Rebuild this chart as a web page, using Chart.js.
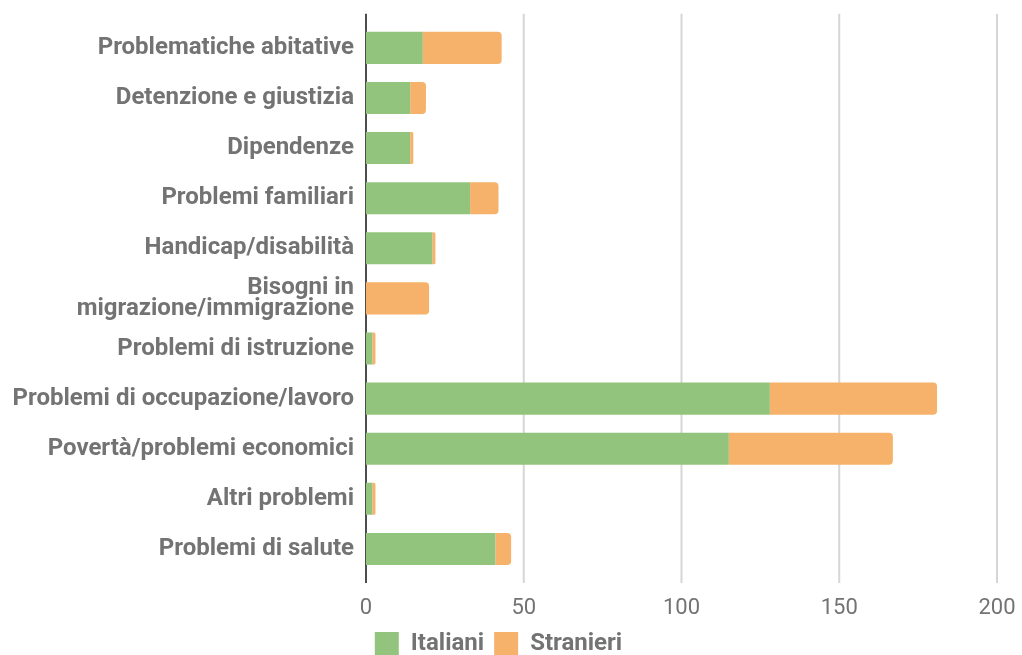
<!DOCTYPE html>
<html>
<head>
<meta charset="utf-8">
<script src="https://cdn.jsdelivr.net/npm/chart.js@4.4.1/dist/chart.umd.min.js"></script>
<style>
  html, body { margin: 0; padding: 0; background: #fff; overflow: hidden; }
  #wrap { width: 1022px; height: 666px; position: relative; }
</style>
</head>
<body>
<div id="wrap"><canvas id="myChart"></canvas></div>
<script>
const categories = [
  'Problematiche abitative',
  'Detenzione e giustizia',
  'Dipendenze',
  'Problemi familiari',
  'Handicap/disabilità',
  ['Bisogni in', 'migrazione/immigrazione'],
  'Problemi di istruzione',
  'Problemi di occupazione/lavoro',
  'Povertà/problemi economici',
  'Altri problemi',
  'Problemi di salute'
];
const italiani = [18, 14, 14, 33, 21, 0, 2, 128, 115, 2, 41];
const stranieri = [25, 5, 1, 9, 1, 20, 1, 53, 52, 1, 5];
const xMax = 200;
const xStep = 50;

const textGrey = '#737373';
const gridGrey = '#d6d6d6';
const axisGrey = '#4d4d4d';

// grid lines stick out a little above and below the plot, like the original
const gridLines = {
  id: 'gridLines',
  beforeDatasetsDraw(chart) {
    const {ctx, chartArea, scales: {x}} = chart;
    ctx.save();
    ctx.lineWidth = 2;
    x.ticks.forEach(t => {
      const px = x.getPixelForValue(t.value);
      ctx.strokeStyle = t.value === 0 ? axisGrey : gridGrey;
      ctx.beginPath();
      ctx.moveTo(px, chartArea.top - 9);
      ctx.lineTo(px, chartArea.bottom + 9);
      ctx.stroke();
    });
    ctx.restore();
  }
};

const ctx = document.getElementById('myChart');

new Chart(ctx, {
  type: 'bar',
  data: {
    labels: categories,
    datasets: [{
      label: 'Italiani',
      data: italiani,
      backgroundColor: '#93c47d',
      borderRadius: 0,
      categoryPercentage: 0.8,
      barPercentage: 0.8
    }, {
      label: 'Stranieri',
      data: stranieri,
      backgroundColor: '#f6b26b',
      borderRadius: 4,
      categoryPercentage: 0.8,
      barPercentage: 0.8
    }]
  },
  options: {
    indexAxis: 'y',
    responsive: true,
    maintainAspectRatio: false,
    animation: false,
    layout: { padding: { top: 22, left: 0, right: 25, bottom: 0 } },
    scales: {
      x: {
        stacked: true,
        min: 0,
        max: xMax,
        afterFit: (scale) => {
          scale.height = 48;
          scale.paddingLeft = 0;
          scale.paddingRight = 0;
        },
        grid: { display: false, drawTicks: false },
        border: { display: false },
        ticks: {
          stepSize: xStep,
          color: textGrey,
          padding: 21,
          font: { family: 'Roboto', size: 22 }
        }
      },
      y: {
        stacked: true,
        afterFit: (scale) => { scale.width = 366; },
        grid: { display: false, drawTicks: false },
        border: { display: false },
        ticks: {
          color: textGrey,
          padding: 12,
          font: { family: 'Roboto', size: 24, weight: 'bold', lineHeight: 0.9 }
        }
      }
    },
    plugins: {
      legend: {
        position: 'bottom',
        labels: {
          boxWidth: 24,
          boxHeight: 24,
          padding: 10,
          color: textGrey,
          font: { family: 'Roboto', size: 24, weight: 'bold' }
        }
      },
      tooltip: { enabled: false }
    }
  },
  plugins: [gridLines]
});
</script>
</body>
</html>
